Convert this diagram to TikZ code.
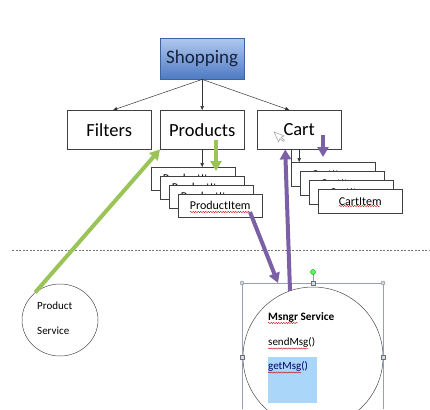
\documentclass[tikz,border=0pt]{standalone}
\usepackage{fontspec}
\setmainfont{Carlito}
\usetikzlibrary{arrows.meta,shapes.geometric,decorations.pathmorphing}
\definecolor{shopTop}{RGB}{176,200,238}
\definecolor{shopBot}{RGB}{78,122,194}
\definecolor{shopLine}{RGB}{62,100,160}
\definecolor{shopText}{RGB}{22,34,60}
\definecolor{linkGreen}{RGB}{155,196,88}
\definecolor{linkPurple}{RGB}{124,96,166}
\definecolor{selGray}{RGB}{150,160,180}
\definecolor{hiBlue}{RGB}{170,214,250}

\begin{document}
\begin{tikzpicture}[x=1pt,y=-1pt,
    box/.style={draw=black!75,fill=white,inner sep=0pt,minimum width=84pt,
      minimum height=39pt,anchor=north west,font=\fontsize{18.5}{20}\selectfont},
    itembox/.style={draw=black!75,fill=white,inner sep=0pt,minimum width=84pt,
      minimum height=23pt,anchor=north west,font=\fontsize{12}{14}\selectfont},
    label/.style={inner sep=0pt,anchor=base west,font=\fontsize{11}{13}\selectfont},
    tree/.style={draw=black!80,line width=0.5pt,-{Triangle[width=3.5pt,length=4pt]}},
    fat/.style={line width=4pt,-{Triangle[width=11pt,length=10pt]}},
    squig/.style={draw=red!75!black,line width=0.4pt,decorate,
      decoration={snake,amplitude=0.6pt,segment length=2.5pt}},
    grip/.style={draw=selGray!70!black,fill=selGray!40,line width=0.3pt,inner sep=0pt}]
  \useasboundingbox (0,0) rectangle (430,409);

  % top of the tree
  \node[box,minimum height=41pt,top color=shopTop,bottom color=shopBot,
    draw=shopLine,text=shopText,font=\fontsize{19}{21}\selectfont] (shopping) at (160,38) {Shopping};
  \node[box] (filters) at (67,110) {Filters};
  \node[box] (products) at (160,110) {Products};
  \node[box] (cart) at (257,110) {Cart};
  \draw[tree] (shopping.south) -- ([xshift=4pt]filters.north);
  \draw[tree] (shopping.south) -- (products.north);
  \draw[tree] (shopping.south) -- ([xshift=-10pt]cart.north);

  % mouse pointer in the cart box
  \draw[black!45,line width=0.4pt,fill=white,rotate around={25:(274,132)}]
    (274,132) -- (274,143) -- (276.5,140.5) -- (278.5,144.5) -- (280,143.8)
    -- (278,139.8) -- (281.5,139.8) -- cycle;

  % stacked items
  \foreach \i/\x/\y in {1/151/167,2/160/176,3/169/185,4/178/194}
    \node[itembox] (pitem\i) at (\x,\y) {ProductItem};
  \foreach \i/\x/\y in {1/291/162,2/300/171,3/309/180,4/318/189}
    \node[itembox,minimum height=24pt] (citem\i) at (\x,\y) {CartItem};
  \draw[black!75,line width=0.5pt] (cart.south -| citem1.west) -- (citem1.north west);
  \draw[tree] (products.south) -- (pitem1.north -| products.south);
  \draw[tree] (cart.south) -- (citem1.north -| cart.south);
  \draw[squig] (190,212) -- (250,212);
  \draw[squig] (339,206) -- (380,206);

  % separator
  \draw[black!55,line width=0.5pt,dash pattern=on 2pt off 1.5pt] (12,250) -- (430,250);

  % services
  \node[ellipse,draw=black!70,line width=0.5pt,minimum width=76pt,minimum height=72pt] (prodsvc) at (60,320) {};
  \node[label] (prodname) at (37,309) {Product};
  \node[label] (prodword) at (37,334) {Service};

  \fill[hiBlue] (268,357) rectangle (317,403);
  \node[circle,draw=black!70,line width=0.5pt,minimum size=140pt,inner sep=0pt] (msgsvc) at (313,357) {};
  \node[label,font=\fontsize{11.3}{13}\selectfont\bfseries] (msgname) at (268,320) {Msngr Service};
  \node[label] (sendmsg) at (268,345) {sendMsg()};
  \node[label,text=blue!40!black] (getmsg) at (268,369) {getMsg()};
  \draw[squig] (268,323) -- (298,323);
  \draw[squig] (268,348.5) -- (308,348.5);
  \draw[squig] (268,372.5) -- (301,372.5);

  % selection frame round the circle
  \draw[selGray,line width=0.4pt] (242,409) -- (242,283) -- (383,283) -- (383,409);
  \draw[selGray,line width=0.4pt] (313,283) -- (313,272);
  \node[grip,circle,minimum size=4pt] (gripnw) at (242,283) {};
  \node[grip,circle,minimum size=4pt] (gripne) at (383,283) {};
  \node[grip,minimum size=4pt] (gripn) at (313,283) {};
  \node[grip,minimum size=4pt] (gripw) at (242,357) {};
  \node[grip,minimum size=4pt] (gripe) at (383,357) {};
  \node[grip,circle,minimum size=5pt,draw=green!50!black,fill=green!65] (griprot) at (313,272) {};

  % links
  \coordinate (gtop) at (216,140);
  \coordinate (gend) at (216,171);
  \coordinate (ptop) at (250,212);
  \coordinate (pend) at (278,283);
  \coordinate (cbox) at (323,135);
  \coordinate (cend) at (323,157);
  \draw[fat,linkGreen] (prodsvc.132) -- (products.south west);
  \draw[fat,linkGreen] (gtop) -- (gend);
  \draw[fat,linkPurple] (ptop) -- (pend);
  \draw[fat,linkPurple] ([xshift=-23pt,yshift=-4pt]msgsvc.north) -- ([xshift=-14pt]cart.south);
  \draw[fat,linkPurple] (cbox) -- (cend);
\end{tikzpicture}
\end{document}
